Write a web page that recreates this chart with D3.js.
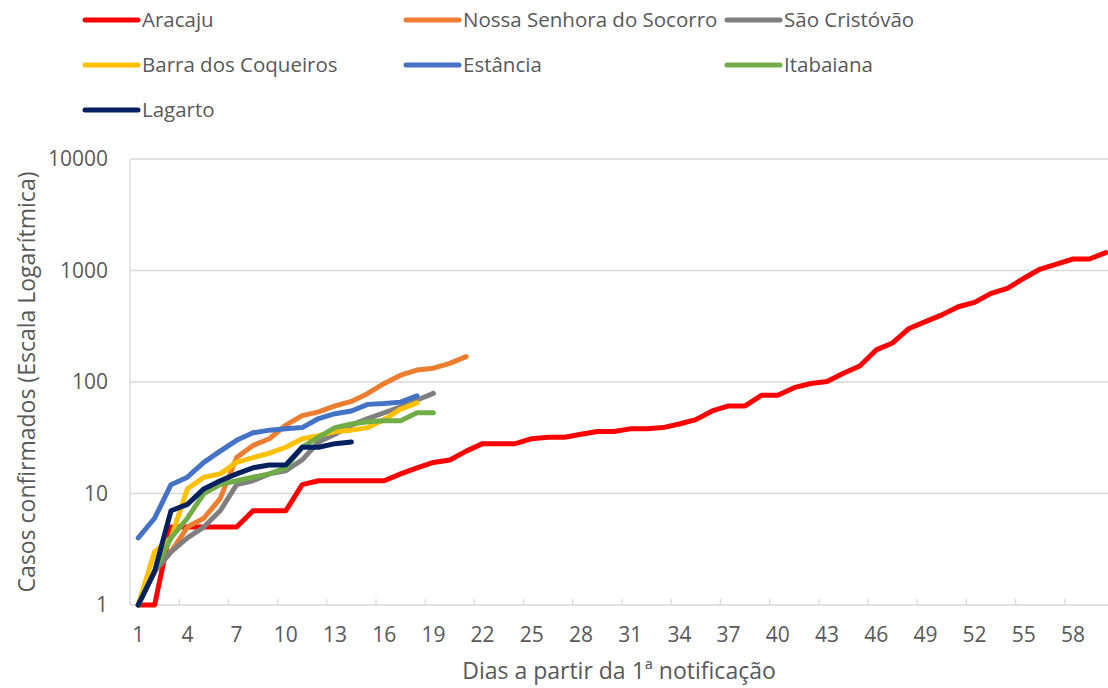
<!DOCTYPE html>
<html>
<head>
<meta charset="utf-8">
<script src="https://cdn.jsdelivr.net/npm/d3@7"></script>
<style>
    body { margin: 0; background: #fff; }
    text { font-family: 'Open Sans', sans-serif; fill: #595959; }
</style>
</head>
<body>
<div id="chart"></div>
<script>
// Casos confirmados por município (escala log)

const days = d3.range(1, 61);
const yTicks = [1, 10, 100, 1000, 10000];

const aracaju = [1, 1, 5, 5, 5, 5, 5, 7, 7, 7, 12, 13, 13, 13, 13, 13, 15, 17, 19, 20,
                 24, 28, 28, 28, 31, 32, 32, 34, 36, 36, 38, 38, 39, 42, 46, 55, 61, 61, 76, 76,
                 89, 97, 101, 120, 139, 194, 224, 302, 348, 400, 473, 518, 624, 692, 852, 1031, 1143, 1268, 1268, 1445];
const nossaSenhora = [1, 2, 3, 5, 6, 9, 21, 27, 31, 41, 50, 54, 61, 67, 79, 97, 115, 128, 133, 147, 169];
const saoCristovao = [1, 2, 3, 4, 5, 7, 12, 13, 15, 16, 20, 29, 34, 41, 47, 53, 60, 69, 79];
const barraCoqueiros = [1, 3, 4, 11, 14, 15, 19, 21, 23, 26, 31, 33, 36, 37, 39, 46, 57, 65];
const estancia = [4, 6, 12, 14, 19, 24, 30, 35, 37, 38, 39, 47, 52, 55, 63, 64, 66, 75];
const itabaiana = [1, 2, 4, 6, 10, 12, 13, 14, 15, 17, 26, 32, 39, 42, 44, 45, 45, 53, 53];
const lagarto = [1, 2, 7, 8, 11, 13, 15, 17, 18, 18, 26, 26, 28, 29];

const series = [
    { name: 'Aracaju', color: '#FF0000', values: aracaju },
    { name: 'Nossa Senhora do Socorro', color: '#ED7D31', values: nossaSenhora },
    { name: 'São Cristóvão', color: '#7F7F7F', values: saoCristovao },
    { name: 'Barra dos Coqueiros', color: '#FFC000', values: barraCoqueiros },
    { name: 'Estância', color: '#4472C4', values: estancia },
    { name: 'Itabaiana', color: '#70AD47', values: itabaiana },
    { name: 'Lagarto', color: '#002060', values: lagarto }
];

const width = 1108, height = 688;
const plot = { left: 130, right: 1114, top: 159, bottom: 605 };
const gridColor = '#D9D9D9';

var svg = d3.select('#chart')
    .append('svg')
    .attr('width', width)
    .attr('height', height);

var x = d3.scaleBand()
    .domain(days)
    .range([plot.left, plot.right]);

var y = d3.scaleLog()
    .domain([1, 10000])
    .range([plot.bottom, plot.top]);

var cx = d => x(d) + x.bandwidth() / 2;

// gridlines
svg.append('g')
    .selectAll('line')
    .data(yTicks.slice(1))
    .join('line')
    .attr('x1', plot.left)
    .attr('x2', plot.right)
    .attr('y1', d => y(d))
    .attr('y2', d => y(d))
    .attr('stroke', gridColor)
    .attr('stroke-width', 1.3);

// axis lines
svg.append('line')
    .attr('x1', plot.left).attr('x2', plot.left)
    .attr('y1', plot.top).attr('y2', plot.bottom)
    .attr('stroke', gridColor).attr('stroke-width', 1.3);

svg.append('line')
    .attr('x1', plot.left).attr('x2', plot.right)
    .attr('y1', plot.bottom).attr('y2', plot.bottom)
    .attr('stroke', gridColor).attr('stroke-width', 1.3);

// tick marks between categories, every 3 days
svg.append('g')
    .selectAll('line')
    .data(days.filter(d => d > 1 && (d - 1) % 3 === 0))
    .join('line')
    .attr('x1', d => x(d))
    .attr('x2', d => x(d))
    .attr('y1', plot.bottom)
    .attr('y2', plot.bottom - 6)
    .attr('stroke', gridColor)
    .attr('stroke-width', 1.3);

// x axis labels
let xAxis = svg.append('g')
    .attr('transform', `translate(0,${plot.bottom})`)
    .call(d3.axisBottom(x)
        .tickValues(days.filter(d => (d - 1) % 3 === 0))
        .tickSize(0)
        .tickPadding(22));
xAxis.select('.domain').remove();
xAxis.selectAll('text')
    .attr('font-size', '21px')
    .attr('font-family', null);

// y axis labels
let yAxis = svg.append('g')
    .attr('transform', `translate(${plot.left},0)`)
    .call(d3.axisLeft(y)
        .tickValues(yTicks)
        .tickFormat(d3.format('d'))
        .tickSize(0)
        .tickPadding(22));
yAxis.select('.domain').remove();
yAxis.selectAll('text')
    .attr('font-size', '21px')
    .attr('font-family', null);

// axis titles
svg.append('text')
    .attr('text-anchor', 'middle')
    .attr('font-size', '23px')
    .attr('transform', `translate(27,${(plot.top + plot.bottom) / 2}) rotate(-90)`)
    .attr('dy', '0.35em')
    .text('Casos confirmados (Escala Logarítmica)');

svg.append('text')
    .attr('text-anchor', 'middle')
    .attr('font-size', '23px')
    .attr('x', (plot.left + width) / 2)
    .attr('y', 671)
    .attr('dy', '0.35em')
    .text('Dias a partir da 1ª notificação');

// series lines
var line = d3.line()
    .x((d, i) => cx(days[i]))
    .y(d => y(d));

svg.append('g')
    .selectAll('path')
    .data(series)
    .join('path')
    .attr('d', d => line(d.values))
    .attr('fill', 'none')
    .attr('stroke', d => d.color)
    .attr('stroke-width', 5)
    .attr('stroke-linejoin', 'round')
    .attr('stroke-linecap', 'round');

// legend
let legendG = svg.append('g');

let items = legendG.selectAll('g')
    .data(series)
    .join('g')
    .attr('transform', (d, i) => `translate(${85 + (i % 3) * 321},${20 + Math.floor(i / 3) * 45})`);

items.append('line')
    .attr('x1', 0).attr('x2', 53)
    .attr('stroke', d => d.color)
    .attr('stroke-width', 5)
    .attr('stroke-linecap', 'round');

items.append('text')
    .attr('x', 57)
    .attr('dy', '0.35em')
    .attr('font-size', '20.5px')
    .text(d => d.name);
</script>
</body>
</html>
